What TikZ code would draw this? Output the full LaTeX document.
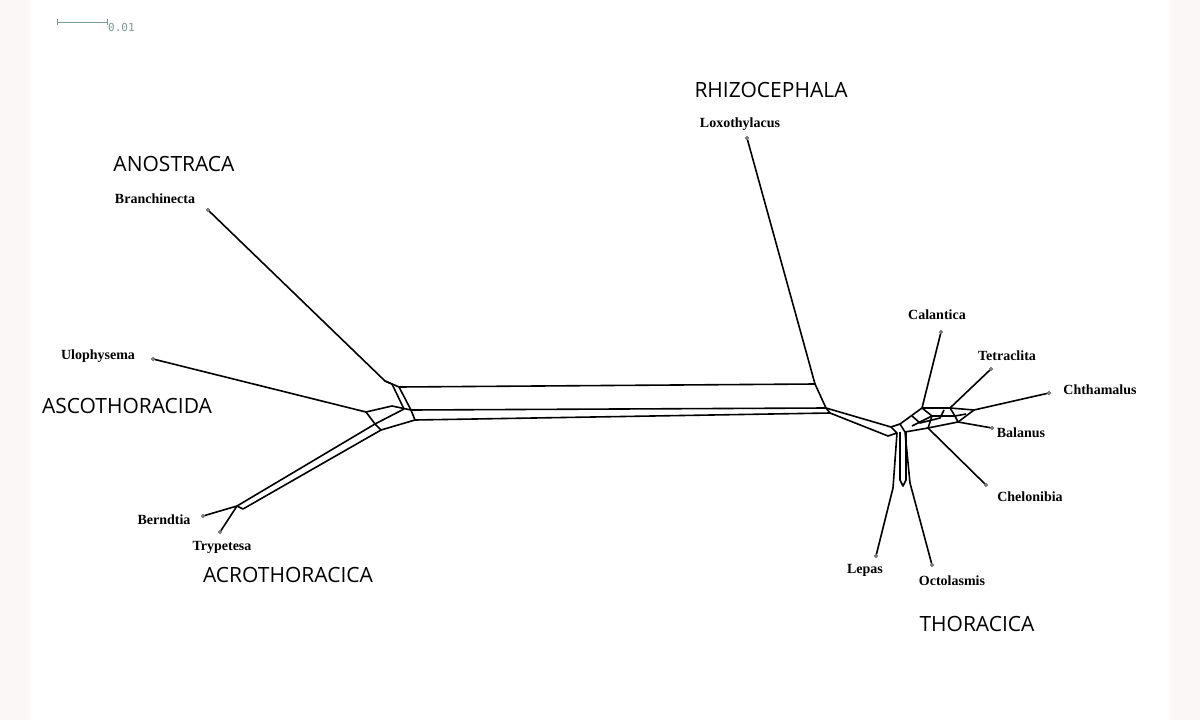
\documentclass[tikz,border=0pt]{standalone}
\usepackage{fontspec}
\setmainfont{Liberation Serif}
\newfontfamily\cladefont{Open Sans}
\newfontfamily\barfont{DejaVu Sans Mono}
\usetikzlibrary{positioning}
\definecolor{edgebg}{HTML}{FCF7F7}
\definecolor{barcol}{HTML}{7A9A9A}
\tikzset{taxon/.style={font=\bfseries\fontsize{14}{16}\selectfont,inner sep=1pt}}
\tikzset{clade/.style={font=\cladefont\fontsize{21}{24}\selectfont,inner sep=0pt}}
\tikzset{tip/.style={circle,draw,fill=white,inner sep=0pt,minimum size=3pt,line width=0.6pt}}
\tikzset{split/.style={line width=1.6pt,line join=round}}
\begin{document}
\begin{tikzpicture}[x=1pt,y=-1pt]
\fill[edgebg] (0,0) rectangle (1200,720);
\fill[white] (30,0) rectangle (1170,720);
\useasboundingbox (0,0) rectangle (1200,720);
% scale bar
\draw[barcol,line width=0.8pt] (57,19) -- (57,25) (57,22) -- (107,22) (107,19) -- (107,25);
\node[barcol,anchor=west,font=\barfont\fontsize{11}{12}\selectfont,inner sep=1pt] (bar) at (107,27) {0.01};
% tips
\node[tip] (branch) at (208,210) {};
\node[tip] (ulo) at (153,359) {};
\node[tip] (bern) at (203,516) {};
\node[tip] (tryp) at (220,532) {};
\node[tip] (loxo) at (747,138) {};
\node[tip] (cala) at (941,332) {};
\node[tip] (tetra) at (991,369) {};
\node[tip] (chth) at (1049,393) {};
\node[tip] (bala) at (992,428) {};
\node[tip] (chel) at (986,485) {};
\node[tip] (lepas) at (876,556) {};
\node[tip] (octo) at (932,565) {};
% taxon labels
\node[taxon] (lbranch) at (155,199) {Branchinecta};
\node[taxon] (lulo) at (98,356) {Ulophysema};
\node[taxon] (lbern) at (164,520) {Berndtia};
\node[taxon] (ltryp) at (222,547) {Trypetesa};
\node[taxon] (lloxo) at (740,124) {Loxothylacus};
\node[taxon] (lcala) at (937,315) {Calantica};
\node[taxon] (ltetra) at (1007,356) {Tetraclita};
\node[taxon] (lchth) at (1100,390) {Chthamalus};
\node[taxon] (lbala) at (1021,433) {Balanus};
\node[taxon] (lchel) at (1030,497) {Chelonibia};
\node[taxon] (llepas) at (865,570) {Lepas};
\node[taxon] (locto) at (952,581) {Octolasmis};
% clade labels
\node[clade] (anos) at (174,164) {ANOSTRACA};
\node[clade] (asco) at (127,406) {ASCOTHORACIDA};
\node[clade] (rhiz) at (771,90) {RHIZOCEPHALA};
\node[clade] (acro) at (288,575) {ACROTHORACICA};
\node[clade] (thor) at (977,624) {THORACICA};
% left junction
\coordinate (a1) at (385,381);
\coordinate (a2) at (399,387);
\coordinate (a3) at (411,410);
\coordinate (a4) at (392,384);
\coordinate (a5) at (404,409);
\coordinate (u1) at (366,412);
\coordinate (u2) at (392,406);
\coordinate (c1) at (375,424);
\coordinate (c2) at (381,430);
\coordinate (c3) at (415,420);
\coordinate (k1) at (237,506);
\coordinate (k2) at (243,509);
% right junction
\coordinate (b1) at (815,384);
\coordinate (b2) at (826,408);
\coordinate (b3) at (830,413);
\coordinate (r1) at (891,427);
\coordinate (r2) at (888,436);
\coordinate (r3) at (897,433);
\coordinate (q1) at (893,488);
\coordinate (q2) at (910,483);
\draw[split] (branch) -- (a1) -- (a2) -- (a3) -- (u2) -- (u1) -- (ulo);
\draw[split] (a1) -- (a4) -- (a5);
\draw[split] (a2) -- (b1) -- (b2) -- (a3);
\draw[split] (a5) -- (c1) (u1) -- (c1);
\draw[split] (c1) -- (c2) -- (c3) -- (a3) (c3) -- (b3) -- (b2);
\draw[split] (c1) -- (k1) -- (bern) (k1) -- (tryp);
\draw[split] (c2) -- (k2) -- (k1);
\draw[split] (loxo) -- (b1);
\draw[split] (b2) -- (r1) (b3) -- (r2) -- (r3) -- (r1);
% thoracica cluster
\draw[split] (r3) -- (q1) -- (lepas);
\draw[split] (r1) -- (900,424) -- (905,432) -- (q2) -- (octo);
\draw[split] (900,432) -- (900,480) -- (903,486) -- (906,480) -- (906,432);
\draw[split] (900,424) -- (922,408) -- (cala);
\draw[split] (922,408) -- (950,408) -- (tetra);
\draw[split] (950,408) -- (974,410) -- (chth);
\draw[split] (905,432) -- (928,428) -- (chel);
\draw[split] (928,428) -- (958,422) -- (bala);
\draw[split] (958,422) -- (974,410);
\draw[split] (912,426) -- (932,416) -- (955,416) -- (966,414);
\draw[split] (922,408) -- (932,416) -- (928,428);
\draw[split] (950,408) -- (955,416) -- (958,422);
\draw[split] (912,416) -- (920,423) -- (940,418) -- (944,410);
\end{tikzpicture}
\end{document}
